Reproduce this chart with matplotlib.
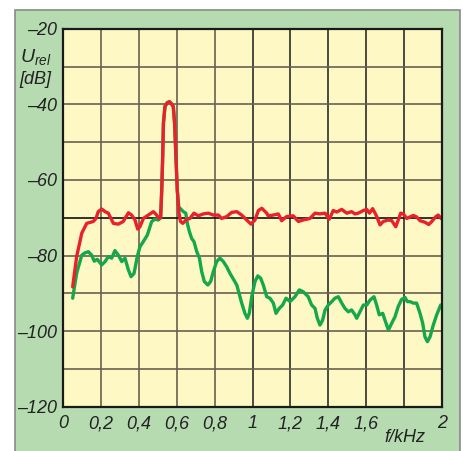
import matplotlib
matplotlib.use("Agg")
import matplotlib.pyplot as plt
from matplotlib.patches import Rectangle

# spectrum
f_red = [0.051, 0.072, 0.099, 0.125, 0.16, 0.174, 0.186, 0.204, 0.222, 0.239,
         0.266, 0.292, 0.318, 0.345, 0.362, 0.380, 0.394, 0.406, 0.424, 0.45,
         0.477, 0.494, 0.507, 0.515, 0.521, 0.526, 0.530, 0.538, 0.550, 0.561,
         0.570, 0.582, 0.589, 0.596, 0.603, 0.612, 0.620, 0.632, 0.653, 0.670,
         0.691, 0.714, 0.74, 0.767, 0.793, 0.82, 0.837, 0.864, 0.89, 0.917,
         0.943, 0.969, 0.992, 1.013, 1.031, 1.049, 1.075, 1.083, 1.11, 1.136,
         1.154, 1.18, 1.215, 1.242, 1.268, 1.303, 1.33, 1.355, 1.383, 1.405,
         1.426, 1.445, 1.471, 1.497, 1.523, 1.541, 1.558, 1.585, 1.603, 1.617,
         1.634, 1.654, 1.673, 1.69, 1.717, 1.735, 1.756, 1.77, 1.782, 1.796,
         1.814, 1.831, 1.849, 1.866, 1.884, 1.91, 1.93, 1.946, 1.968, 1.98, 1.995]
db_red = [-88.3, -80.3, -74.1, -71.5, -71.0, -70.2, -68.4, -67.7, -68.4, -68.8,
          -71.5, -71.7, -71.0, -68.7, -69.3, -70.6, -73.0, -72.4, -70.2, -69.3,
          -68.4, -69.3, -70.2, -70.0, -62.7, -53.9, -45.0, -40.6, -39.6, -39.3,
          -39.7, -40.6, -45.0, -53.9, -62.7, -68.8, -71.0, -71.5, -70.4, -70.2,
          -68.8, -69.5, -69.0, -68.8, -69.3, -69.3, -70.2, -69.7, -68.6, -68.4,
          -69.3, -70.6, -71.7, -70.6, -68.1, -67.5, -68.8, -69.5, -69.3, -69.0,
          -70.8, -69.7, -69.5, -71.0, -70.6, -70.2, -68.8, -69.0, -68.8, -70.4,
          -68.1, -68.5, -67.8, -68.8, -68.4, -69.0, -68.8, -68.1, -67.8, -68.8,
          -67.6, -69.5, -71.9, -71.0, -70.6, -70.8, -72.4, -70.5, -68.8, -69.0,
          -70.2, -69.8, -69.4, -69.8, -70.8, -71.2, -71.8, -71.0, -69.7, -69.3, -70.2]

f_green = [0.051, 0.072, 0.099, 0.116, 0.134, 0.151, 0.165, 0.181, 0.204, 0.222,
           0.239, 0.257, 0.274, 0.292, 0.31, 0.327, 0.345, 0.359, 0.375, 0.392,
           0.406, 0.424, 0.445, 0.468, 0.485, 0.503, 0.515, 0.521, 0.526, 0.530,
           0.538, 0.550, 0.561, 0.570, 0.582, 0.589, 0.596, 0.603, 0.612, 0.617,
           0.635, 0.648, 0.656, 0.667, 0.679, 0.691, 0.706, 0.72, 0.732, 0.746,
           0.764, 0.779, 0.793, 0.811, 0.828, 0.846, 0.864, 0.881, 0.902, 0.917,
           0.929, 0.943, 0.96, 0.973, 0.983, 0.996, 1.013, 1.028, 1.043, 1.057,
           1.075, 1.092, 1.11, 1.124, 1.141, 1.159, 1.177, 1.198, 1.224, 1.247,
           1.268, 1.294, 1.312, 1.33, 1.342, 1.356, 1.37, 1.383, 1.4, 1.418,
           1.435, 1.453, 1.471, 1.488, 1.506, 1.523, 1.541, 1.55, 1.567, 1.585,
           1.603, 1.62, 1.641, 1.655, 1.669, 1.687, 1.699, 1.717, 1.735, 1.752,
           1.769, 1.787, 1.805, 1.817, 1.831, 1.849, 1.866, 1.884, 1.898, 1.91,
           1.923, 1.937, 1.954, 1.972, 1.993]
db_green = [-91.3, -84.7, -79.9, -79.3, -79.0, -79.9, -81.5, -81.0, -82.5, -81.6,
            -80.3, -80.7, -78.7, -79.9, -81.6, -80.7, -83.8, -85.6, -84.7, -80.3,
            -77.7, -76.3, -74.6, -71.0, -70.4, -70.6, -70.0, -62.7, -53.9, -45.0,
            -40.6, -39.6, -39.3, -39.7, -40.6, -45.0, -53.9, -62.7, -67.8, -67.5,
            -68.4, -68.8, -71.5, -73.7, -75.5, -76.3, -79.0, -80.7, -84.3, -86.9,
            -87.8, -86.9, -84.3, -81.6, -80.7, -81.6, -83.0, -84.7, -86.5, -87.8,
            -90.0, -92.6, -95.3, -96.6, -95.3, -90.9, -86.9, -85.4, -86.0, -87.8,
            -90.9, -91.3, -92.6, -95.3, -94.0, -93.1, -91.3, -92.2, -90.9, -89.1,
            -89.6, -90.9, -93.1, -94.0, -96.6, -98.4, -97.1, -94.4, -93.1, -92.2,
            -91.3, -90.9, -92.6, -94.0, -94.9, -94.4, -95.7, -96.6, -94.9, -93.1,
            -93.1, -91.8, -90.9, -93.1, -95.7, -95.3, -97.1, -99.7, -97.9, -96.2,
            -93.5, -91.6, -91.1, -92.2, -92.2, -92.6, -92.6, -95.3, -97.9, -101.5,
            -102.8, -101.5, -98.4, -95.7, -93.1]

x_grid = [0.2, 0.4, 0.6, 0.8, 1.0, 1.2, 1.4, 1.6, 1.8]
y_grid = [-30, -40, -50, -60, -70, -80, -90, -100, -110]
x_ticks = [0, 0.2, 0.4, 0.6, 0.8, 1.0, 1.2, 1.4, 1.6, 2.0]
x_labels = ['0', '0,2', '0,4', '0,6', '0,8', '1', '1,2', '1,4', '1,6', '2']
y_ticks = [-20, -40, -60, -80, -100, -120]
y_labels = ['\u201320', '\u201340', '\u201360', '\u201380', '\u2013100', '\u2013120']

plt.rcParams['font.family'] = ['Liberation Sans', 'DejaVu Sans']
plt.rcParams['font.style'] = 'italic'
plt.rcParams['mathtext.fontset'] = 'custom'
plt.rcParams['mathtext.it'] = 'Liberation Sans:italic'
plt.rcParams['mathtext.rm'] = 'Liberation Sans:italic'

W, H = 463, 451
fig = plt.figure(figsize=(W / 100, H / 100), dpi=100)
fig.patch.set_facecolor('white')

# green panel behind the chart
fig.patches.append(Rectangle((15 / W, -0.02), 445 / W, 1 - 9.5 / H + 0.02,
                             transform=fig.transFigure, facecolor='#b6dbb0',
                             edgecolor='#8a8a8a', linewidth=1.2, zorder=-5))

ax = fig.add_axes([63 / W, 1 - 406.7 / H, 379 / W, 378 / H])
ax.set_zorder(2)
ax.set_facecolor('#fef9c4')
ax.set_xlim(0, 2)
ax.set_ylim(-120, -20)

for xv in x_grid:
    c = '#2e2c28' if xv >= 1.0 else '#6a604e'
    ax.axvline(xv, color=c, lw=1.2, zorder=1)
for yv in y_grid:
    c = '#111111' if yv == -70 else '#6a604e'
    ax.axhline(yv, color=c, lw=1.2, zorder=1)

ax.plot(f_green, db_green, color='#14a84a', lw=2.4, zorder=3,
        solid_joinstyle='round', solid_capstyle='round')
ax.plot(f_red, db_red, color='#e8212b', lw=2.4, zorder=4,
        solid_joinstyle='round', solid_capstyle='round')

ax.set_xticks(x_ticks)
ax.set_xticklabels(x_labels)
ax.set_yticks(y_ticks)
ax.set_yticklabels(y_labels)
ax.tick_params(length=0, labelsize=13, colors='#222222', pad=4)
ax.tick_params(axis='x', pad=6)
for s in ax.spines.values():
    s.set_color('#1a1a1a')
    s.set_linewidth(1.6)
    s.set_zorder(5)

fig.text(52 / W, 1 - 57 / H, r'$U_{rel}$', ha='right', va='center',
         fontsize=14, color='#222222', zorder=3)
fig.text(51 / W, 1 - 80 / H, '[dB]', ha='right', va='center',
         fontsize=13, color='#222222', zorder=3)
fig.text(404.7 / W, 1 - 437 / H, 'f/kHz', ha='center', va='center',
         fontsize=13, color='#222222', zorder=3)

fig.savefig('out.png', dpi=100, facecolor=fig.get_facecolor())
